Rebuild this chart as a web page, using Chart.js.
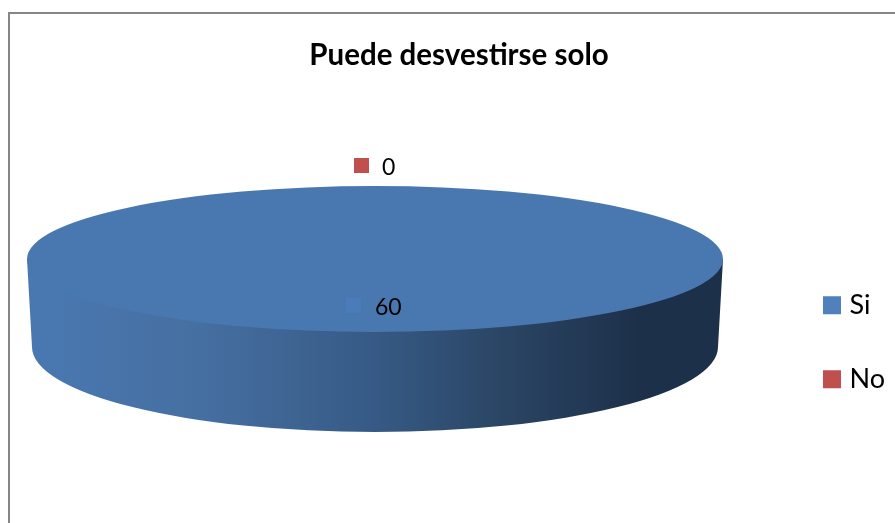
<!DOCTYPE html>
<html>
<head>
<meta charset="utf-8">
<style>
  html, body { margin: 0; padding: 0; background: #fff; }
  canvas { display: block; }
</style>
<script src="https://cdn.jsdelivr.net/npm/chart.js@4/dist/chart.umd.min.js"></script>
</head>
<body>
<canvas id="myChart" width="895" height="523"></canvas>
<script>
const categories = ["Si", "No"];
const values = [60, 0];
const colors = ["#4978B1", "#C0504D"];
const keyColors = ["#4F81BD", "#C0504D"];
const chartTitle = "Puede desvestirse solo";

// the 3D look: where the squashed pie sits and how the wall hangs under it
const disc = { cx: 375, cy: 259, rx: 348, ry: 73 };
const base = { cx: 375, cy: 347, rx: 343, ry: 85 };

// data labels sit apart from the slices, each with a little key
const valueLabels = [
  { keyX: 346, keyY: 298, textX: 375, textY: 308, key: "#4A7CB9" },
  { keyX: 354, keyY: 158, textX: 382, textY: 168, key: "#C0504D" }
];

const frame = {
  id: "frame",
  beforeDraw(chart) {
    const c = chart.ctx;
    c.save();
    c.strokeStyle = "#868686";
    c.lineWidth = 2;
    c.beginPath();
    c.moveTo(9, 523);
    c.lineTo(9, 13);
    c.lineTo(895, 13);
    c.stroke();
    c.restore();
  }
};

const pie3d = {
  id: "pie3d",
  beforeDatasetsDraw(chart) {
    const c = chart.ctx;
    const arc = chart.getDatasetMeta(0).data[0];
    // side wall
    const g = c.createLinearGradient(base.cx - base.rx, 0, base.cx + base.rx, 0);
    g.addColorStop(0, "#4978B1");
    g.addColorStop(0.245, "#466FA1");
    g.addColorStop(0.5, "#365A85");
    g.addColorStop(0.68, "#2B4665");
    g.addColorStop(0.885, "#1D304A");
    g.addColorStop(1, "#1D304A");
    c.save();
    c.fillStyle = g;
    c.beginPath();
    c.moveTo(disc.cx - disc.rx, disc.cy);
    c.lineTo(base.cx - base.rx, base.cy);
    c.ellipse(base.cx, base.cy, base.rx, base.ry, 0, Math.PI, 0, true);
    c.lineTo(disc.cx + disc.rx, disc.cy);
    c.closePath();
    c.fill();
    c.restore();
    // squash the round pie the library draws into the top of the disc
    c.save();
    c.translate(disc.cx, disc.cy);
    c.scale(disc.rx / arc.outerRadius, disc.ry / arc.outerRadius);
    c.translate(-arc.x, -arc.y);
  },
  afterDatasetsDraw(chart) {
    const c = chart.ctx;
    c.restore();
    c.save();
    c.font = "23px Lato";
    c.textBaseline = "middle";
    values.forEach((v, i) => {
      const s = valueLabels[i];
      c.fillStyle = s.key;
      c.fillRect(s.keyX, s.keyY, 15, 15);
      c.fillStyle = "#000";
      c.fillText(String(v), s.textX, s.textY);
    });
    c.restore();
  }
};

new Chart(document.getElementById("myChart"), {
  type: "pie",
  data: {
    labels: categories,
    datasets: [{ data: values, backgroundColor: colors, borderWidth: 0 }]
  },
  options: {
    responsive: false,
    animation: false,
    layout: { padding: { left: 23 } },
    plugins: {
      tooltip: { enabled: false },
      title: {
        display: true,
        text: chartTitle,
        color: "#000",
        font: { family: "Lato", size: 29.5, weight: "bold" },
        padding: { top: 38, bottom: 88 }
      },
      legend: {
        position: "right",
        fullSize: false,
        labels: {
          usePointStyle: true,
          pointStyle: "rect",
          // narrow layout box, full size square: keeps the text close to the key
          boxWidth: 8,
          boxHeight: 18,
          padding: 47,
          color: "#000",
          font: { family: "Lato", size: 27 },
          generateLabels(chart) {
            const items = Chart.overrides.pie.plugins.legend.labels.generateLabels(chart);
            items.forEach((it, i) => { it.fillStyle = keyColors[i]; });
            return items;
          }
        }
      }
    }
  },
  plugins: [frame, pie3d]
});
</script>
</body>
</html>
